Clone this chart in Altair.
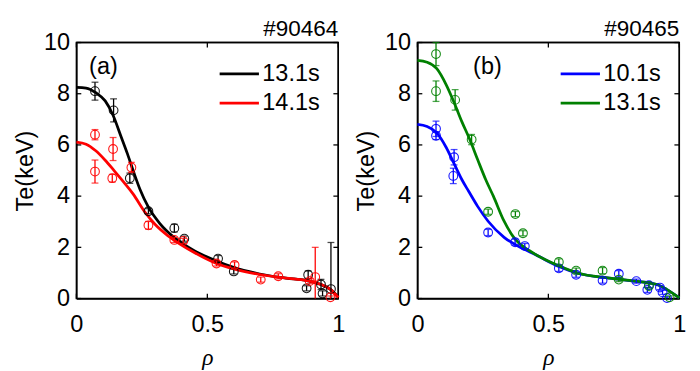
import altair as alt
import pandas as pd

W, H = 268, 262
FONT = "Liberation Sans"
FS = 24
INK = "#000000"

# ---------- panel (a) #90464 ----------
a_fit1_x = [0, 0.037, 0.074, 0.11, 0.14, 0.17, 0.195, 0.218, 0.243, 0.275, 0.318, 0.374, 0.45, 0.535, 0.6, 0.7, 0.8, 0.88, 0.93, 0.97, 1.0]
a_fit1_y = [8.25, 8.22, 8.04, 7.72, 7.16, 6.34, 5.65, 4.96, 4.26, 3.57, 2.94, 2.38, 1.87, 1.47, 1.22, 0.96, 0.80, 0.70, 0.56, 0.36, 0.06]
a_fit2_x = [0, 0.037, 0.074, 0.11, 0.147, 0.183, 0.217, 0.26, 0.3, 0.35, 0.4, 0.45, 0.535, 0.6, 0.7, 0.8, 0.88, 0.93, 0.97, 1.0]
a_fit2_y = [6.11, 6.03, 5.77, 5.4, 4.96, 4.52, 4.08, 3.4, 2.9, 2.45, 2.1, 1.8, 1.37, 1.16, 0.94, 0.8, 0.7, 0.57, 0.36, 0.04]

a_pts1_x = [0.071, 0.142, 0.204, 0.275, 0.374, 0.412, 0.541, 0.601, 0.885, 0.879, 0.934, 0.94, 0.972]
a_pts1_y = [8.1, 7.35, 4.7, 3.41, 2.75, 2.34, 1.56, 1.06, 0.93, 0.4, 0.55, 0.2, 0.37]
a_pts1_e = [0.35, 0.45, 0.2, 0.1, 0.15, 0.1, 0.12, 0.1, 0.15, 0.1, 0.2, 0.1, 1.82]

a_pts2_x = [0.071, 0.071, 0.14, 0.137, 0.21, 0.275, 0.374, 0.408, 0.535, 0.604, 0.704, 0.771, 0.891, 0.912, 0.97]
a_pts2_y = [6.4, 4.96, 5.84, 4.7, 5.12, 2.86, 2.29, 2.25, 1.37, 1.31, 0.74, 0.87, 0.68, 0.84, 0.05]
a_pts2_e = [0.2, 0.45, 0.45, 0.15, 0.2, 0.15, 0.1, 0.1, 0.1, 0.12, 0.1, 0.1, 0.1, 1.16, 0.05]

# ---------- panel (b) #90465 ----------
b_fit1_x = [0, 0.037, 0.074, 0.11, 0.14, 0.17, 0.195, 0.23, 0.27, 0.331, 0.403, 0.45, 0.54, 0.612, 0.733, 0.83, 0.914, 0.95, 1.0]
b_fit1_y = [6.8, 6.72, 6.47, 5.9, 5.27, 4.64, 4.2, 3.6, 3.02, 2.39, 1.95, 1.72, 1.25, 0.99, 0.8, 0.68, 0.55, 0.37, 0.03]
b_fit2_x = [0, 0.037, 0.074, 0.11, 0.14, 0.17, 0.2, 0.231, 0.261, 0.29, 0.331, 0.373, 0.428, 0.54, 0.612, 0.733, 0.83, 0.914, 0.95, 1.0]
b_fit2_y = [9.3, 9.23, 8.98, 8.35, 7.66, 6.9, 6.21, 5.4, 4.64, 4.0, 3.02, 2.32, 1.87, 1.28, 1.0, 0.8, 0.68, 0.55, 0.37, 0.03]

b_pts1_x = [0.071, 0.071, 0.14, 0.137, 0.27, 0.373, 0.41, 0.54, 0.606, 0.707, 0.769, 0.836, 0.884, 0.878, 0.926, 0.936, 0.953]
b_pts1_y = [6.63, 6.36, 5.52, 4.79, 2.58, 2.2, 2.05, 1.18, 0.93, 0.7, 0.97, 0.68, 0.52, 0.34, 0.43, 0.24, 0.02]
b_pts1_e = [0.3, 0.15, 0.3, 0.3, 0.12, 0.12, 0.1, 0.12, 0.1, 0.1, 0.12, 0.08, 0.1, 0.1, 0.08, 0.08, 0.05]

b_pts2_x = [0.071, 0.071, 0.144, 0.207, 0.27, 0.374, 0.403, 0.54, 0.606, 0.707, 0.769, 0.884, 0.963]
b_pts2_y = [9.55, 8.1, 7.76, 6.21, 3.39, 3.3, 2.55, 1.43, 1.09, 1.09, 0.74, 0.49, 0.05]
b_pts2_e = [0.45, 0.4, 0.4, 0.2, 0.1, 0.1, 0.1, 0.12, 0.1, 0.12, 0.08, 0.08, 0.05]

x_ticks = [0, 0.5, 1]
y_ticks = [0, 2, 4, 6, 8, 10]


def panel(title, tag, fits, pts, names, colors):
    xs = alt.Scale(domain=[0, 1], nice=False)
    ys = alt.Scale(domain=[0, 10], nice=False)
    X = lambda f: alt.X(f, type="quantitative", scale=xs,
                        axis=alt.Axis(values=x_ticks, format="~g", title="ρ", domain=True,
                                      domainColor=INK, domainWidth=1.5, ticks=False,
                                      grid=False, labelFlush=False, labelPadding=15, titlePadding=9,
                                      titleFont="Liberation Serif", titleFontStyle="italic",
                                      titleFontWeight="normal"))
    Y = lambda f: alt.Y(f, type="quantitative", scale=ys,
                        axis=alt.Axis(values=y_ticks, title="Te(keV)", domain=True,
                                      domainColor=INK, domainWidth=1.5, ticks=False, grid=False,
                                      labelFlush=False, labelPadding=7, titlePadding=6,
                                      titleFontWeight="normal"))
    one = pd.DataFrame({"x0": [0.0], "x1": [1.0], "y0": [0.0], "y1": [10.0], "p": [title]})
    layers = []
    # frame (top / right edges; bottom / left also drawn by the axis domains)
    layers.append(alt.Chart(one).mark_rule(color=INK, strokeWidth=1.5).encode(x=X("x0"), x2="x1", y=Y("y1")))
    layers.append(alt.Chart(one).mark_rule(color=INK, strokeWidth=1.5).encode(y=Y("y0"), y2="y1", x=X("x1")))
    # inward ticks (5 px long)
    tx = pd.DataFrame({"t": x_ticks})
    tx["p"] = title
    tx["b0"] = 0.0
    tx["b1"] = 5 * 10.0 / H
    tx["u0"] = 10.0
    tx["u1"] = 10.0 - 5 * 10.0 / H
    ty = pd.DataFrame({"t": y_ticks})
    ty["p"] = title
    ty["l0"] = 0.0
    ty["l1"] = 5.0 / W
    ty["r0"] = 1.0
    ty["r1"] = 1.0 - 5.0 / W
    layers.append(alt.Chart(tx).mark_rule(color=INK, strokeWidth=1.3).encode(x=X("t"), y=Y("b0"), y2="b1"))
    layers.append(alt.Chart(tx).mark_rule(color=INK, strokeWidth=1.3).encode(x=X("t"), y=Y("u0"), y2="u1"))
    layers.append(alt.Chart(ty).mark_rule(color=INK, strokeWidth=1.3).encode(y=Y("t"), x=X("l0"), x2="l1"))
    layers.append(alt.Chart(ty).mark_rule(color=INK, strokeWidth=1.3).encode(y=Y("t"), x=X("r0"), x2="r1"))

    for (fx, fy), col in zip(fits, colors):
        df = pd.DataFrame({"x": fx, "y": fy})
        layers.append(alt.Chart(df).mark_line(color=col, strokeWidth=2.8, interpolate="monotone")
                      .encode(x=X("x"), y=Y("y")))
    for (px, py, pe), col in zip(pts, colors):
        df = pd.DataFrame({"x": px, "y": py, "e": pe})
        df["lo"] = (df["y"] - df["e"]).clip(lower=0.0)
        df["hi"] = df["y"] + df["e"]
        low_caps = df[df["y"] - df["e"] > 0]
        layers.append(alt.Chart(df).mark_rule(color=col, strokeWidth=1.3)
                      .encode(x=X("x"), y=Y("lo"), y2="hi"))
        layers.append(alt.Chart(low_caps).mark_tick(color=col, orient="horizontal", size=7, thickness=1.3)
                      .encode(x=X("x"), y=Y("lo")))
        layers.append(alt.Chart(df).mark_tick(color=col, orient="horizontal", size=7, thickness=1.3)
                      .encode(x=X("x"), y=Y("hi")))
        layers.append(alt.Chart(df).mark_point(color=col, shape="circle", size=80, strokeWidth=1.1,
                                               filled=False, opacity=0.9)
                      .encode(x=X("x"), y=Y("y")))
    # legend
    for i, (nm, col) in enumerate(zip(names, colors)):
        yy = 32 + 30 * i
        layers.append(alt.Chart(one).mark_rule(color=col, strokeWidth=2.8)
                      .encode(x=alt.value(W * 0.547), x2=alt.value(W * 0.697), y=alt.value(yy)))
        layers.append(alt.Chart(one).mark_text(text=nm, align="left", baseline="middle",
                                               font=FONT, fontSize=FS, color=INK)
                      .encode(x=alt.value(W * 0.71), y=alt.value(yy)))
    layers.append(alt.Chart(one).mark_text(text=tag, align="left", baseline="middle",
                                           font=FONT, fontSize=FS, color=INK)
                  .encode(x=alt.value(13 if tag == "(a)" else 57), y=alt.value(25)))
    # panel title (shot number)
    layers.append(alt.Chart(one).mark_text(text=title, align="right", baseline="alphabetic",
                                           font=FONT, fontSize=23, color=INK)
                  .encode(x=alt.value(W), y=alt.value(-7)))
    return alt.layer(*layers).properties(width=W, height=H)


left = panel("#90464", "(a)",
             [(a_fit1_x, a_fit1_y), (a_fit2_x, a_fit2_y)],
             [(a_pts1_x, a_pts1_y, a_pts1_e), (a_pts2_x, a_pts2_y, a_pts2_e)],
             ["13.1s", "14.1s"], ["#000000", "#ff0000"])
right = panel("#90465", "(b)",
              [(b_fit1_x, b_fit1_y), (b_fit2_x, b_fit2_y)],
              [(b_pts1_x, b_pts1_y, b_pts1_e), (b_pts2_x, b_pts2_y, b_pts2_e)],
              ["10.1s", "13.1s"], ["#0000ff", "#008000"])

chart = alt.hconcat(left, right, spacing=8).configure_view(
    stroke="#000000", strokeWidth=1.5
).configure_axis(
    labelFont=FONT, labelFontSize=FS, labelColor=INK,
    titleFont=FONT, titleFontSize=FS, titleColor=INK
)

chart.save("out.html", embed_options={"renderer": "svg", "actions": False})
